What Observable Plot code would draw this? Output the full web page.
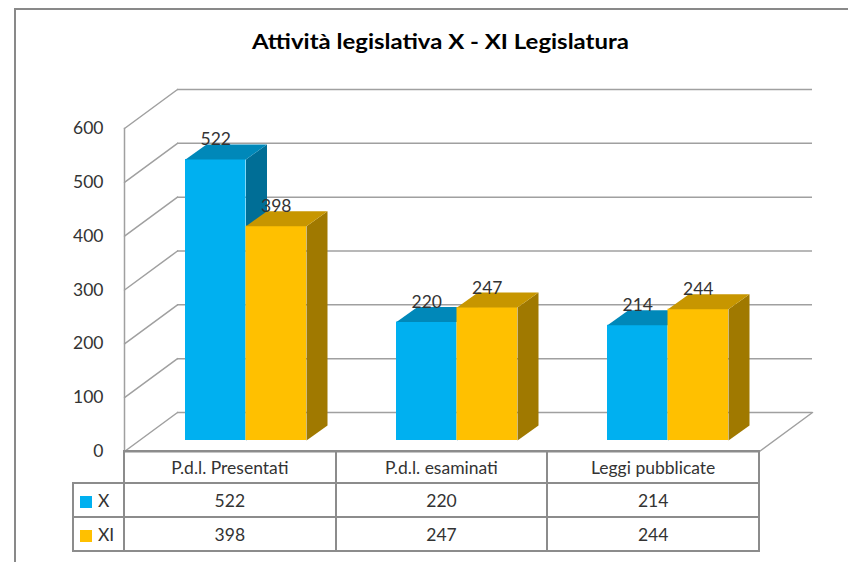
<!DOCTYPE html>
<html><head><meta charset="utf-8">
<script src="https://cdn.jsdelivr.net/npm/d3@7"></script>
<script src="https://cdn.jsdelivr.net/npm/@observablehq/plot@0.6"></script>
<style>
body{margin:0;background:#fff;}
#wrap{position:relative;width:848px;height:562px;overflow:hidden;font-family:Lato,"Open Sans",sans-serif;}
#border{position:absolute;left:14px;top:8px;width:900px;height:600px;border-left:2px solid #898989;border-top:2px solid #898989;}
#title{position:absolute;top:29px;white-space:nowrap;font-weight:bold;font-size:20px;color:#000;transform-origin:center top;}
#chart{position:absolute;left:0;top:0;}
table{position:absolute;border-collapse:collapse;table-layout:fixed;left:72px;top:450px;font-size:17.5px;color:#333;font-family:Lato,sans-serif;}
td{border:2px solid #8c8c8c;text-align:center;padding:0;white-space:nowrap;}
td.empty{border:none;}
td.leg{text-align:left;padding-left:6px;}
.sw{display:inline-block;width:12px;height:12px;margin-right:6px;vertical-align:-1px;}
</style></head>
<body>
<div id="wrap">
  <div id="border"></div>
  <div id="chart"></div>
  <div id="title">Attività legislativa X - XI Legislatura</div>
</div>
<script>
// ---- data ----
const categories = ["P.d.l. Presentati", "P.d.l. esaminati", "Leggi pubblicate"];
const seriesNames = ["X", "XI"];
const valuesX = [522, 220, 214];
const valuesXI = [398, 247, 244];
const yTicks = [0, 100, 200, 300, 400, 500, 600];

// ---- styling / layout ----
const colors = {X: ["#00B0F0", "#0088B9", "#006E96"], XI: ["#FFC000", "#C79600", "#A07900"]};
const gridColor = "#a0a0a0";
const tableColor = "#8c8c8c";
const W = 848, H = 562, mL = 124, mR = 89, mT = 128, mB = 111;
const step = (W - mL - mR) / categories.length;
const half = 60.5;                 // width of one bar face
const pad = 1 - 2 * half / step;
const plotH = H - mT - mB;
const wall = [53, -39];            // depth of the back wall
const off = [15, -11];             // offset of bar front from front plane
const depth = [21, -15];           // bar depth

const rows = seriesNames.flatMap((s, si) =>
  categories.map((c, i) => ({cat: c, series: s, value: (si ? valuesXI : valuesX)[i]})));

const lineShape = {draw(ctx, l) { ctx.moveTo(0, 0); ctx.lineTo(0, -l); }};
const topShape = x0 => ({draw(ctx) {
  ctx.moveTo(x0, 0); ctx.lineTo(x0 + half, 0);
  ctx.lineTo(x0 + half + depth[0], depth[1]); ctx.lineTo(x0 + depth[0], depth[1]); ctx.closePath();
}});
const sideShape = x0 => ({draw(ctx, l) {
  const xr = x0 + half;
  ctx.moveTo(xr, 0); ctx.lineTo(xr + depth[0], depth[1]);
  ctx.lineTo(xr + depth[0], l + depth[1]); ctx.lineTo(xr, l); ctx.closePath();
}});

const wallLen = Math.hypot(wall[0], wall[1]);
const wallRot = Math.atan2(wall[0], -wall[1]) * 180 / Math.PI;

const barMarks = seriesNames.flatMap(s => {
  const data = rows.filter(d => d.series === s);
  const x0 = s === "X" ? -half : 0;
  return [
    Plot.vector(data, {x: "cat", y: "value", length: "value", rotate: 0, anchor: "start",
      shape: sideShape(x0), fill: colors[s][2], stroke: "none", dx: off[0], dy: off[1]}),
    Plot.barY(data, {x: "cat", y: "value", fill: colors[s][0],
      insetLeft: s === "X" ? 0 : half, insetRight: s === "X" ? half : 0, dx: off[0], dy: off[1]}),
    Plot.dot(data, {x: "cat", y: "value", symbol: topShape(x0), r: 5,
      fill: colors[s][1], stroke: "none", dx: off[0], dy: off[1]}),
    Plot.text(data, {x: "cat", y: "value", text: d => String(d.value),
      dx: off[0] + (s === "X" ? -half / 2 : half / 2), dy: off[1] + depth[1] + 1,
      lineAnchor: "bottom", fontSize: 17.5, fill: "#333"})
  ];
});

const chart = Plot.plot({
  width: W, height: H,
  marginLeft: mL, marginRight: mR, marginTop: mT, marginBottom: mB,
  style: {fontFamily: "Lato, sans-serif", fontSize: "17px", color: "#333", background: "none", overflow: "visible"},
  x: {type: "band", domain: categories, paddingInner: pad, paddingOuter: pad / 2, axis: null},
  y: {domain: [0, 600]},
  length: {domain: [0, 600], range: [0, plotH]},
  marks: [
    Plot.ruleY(yTicks, {dx: wall[0], dy: wall[1], stroke: gridColor, strokeWidth: 1.5}),
    Plot.vector(yTicks, {y: d => d, frameAnchor: "left", length: wallLen, rotate: wallRot, anchor: "start",
      shape: lineShape, stroke: gridColor, strokeWidth: 1.5}),
    Plot.vector([0], {y: d => d, frameAnchor: "right", length: wallLen, rotate: wallRot, anchor: "start",
      shape: lineShape, stroke: gridColor, strokeWidth: 1.5}),
    Plot.frame({anchor: "left", stroke: gridColor, strokeWidth: 1.5}),
    Plot.ruleY([0], {stroke: tableColor, strokeWidth: 2}),
    Plot.axisY({ticks: yTicks, tickSize: 0, tickPadding: 21, fontSize: 17.5, fill: "#333", label: null}),
    ...barMarks
  ]
});
document.getElementById("chart").appendChild(chart);

// ---- title sizing (reference title spans ~377px, centred at x≈440) ----
const title = document.getElementById("title");
const tw = title.getBoundingClientRect().width;
title.style.left = (440 - tw / 2) + "px";
title.style.transform = `scaleX(${377 / tw})`;

// ---- data table (legend) ----
const tbl = document.createElement("table");
const cg = document.createElement("colgroup");
[51, step, step, step].forEach(w => { const c = document.createElement("col"); c.style.width = w + "px"; cg.appendChild(c); });
tbl.appendChild(cg);
const hr = tbl.insertRow();
hr.style.height = "32px";
const e = hr.insertCell(); e.className = "empty";
categories.forEach(c => { hr.insertCell().textContent = c; });
seriesNames.forEach((s, si) => {
  const r = tbl.insertRow();
  r.style.height = "34px";
  const lc = r.insertCell(); lc.className = "leg";
  lc.innerHTML = `<span class="sw" style="background:${colors[s][0]}"></span>${s}`;
  (si ? valuesXI : valuesX).forEach(v => { r.insertCell().textContent = v; });
});
document.getElementById("wrap").appendChild(tbl);
</script>
</body></html>
